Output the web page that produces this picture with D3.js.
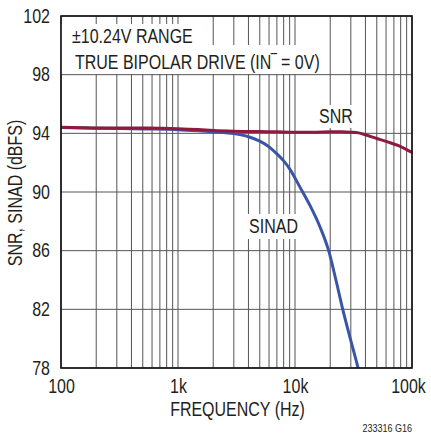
<!DOCTYPE html>
<html>
<head>
<meta charset="utf-8">
<script src="https://cdn.jsdelivr.net/npm/d3@7"></script>
<style>
  body { margin: 0; background: #fff; }
  text { font-family: "Liberation Sans", Arial, sans-serif; fill: #231f20; }
</style>
</head>
<body>
<div id="chart"></div>
<script>
// values
var snrFreq = [100, 150, 200, 300, 500, 700, 1000, 1500, 2000, 3000, 5000, 7000, 10000, 15000, 20000, 25000, 30000, 35000, 40000, 50000, 60000, 80000, 100000];
var snrDb = [94.42, 94.38, 94.36, 94.37, 94.36, 94.35, 94.32, 94.26, 94.2, 94.15, 94.12, 94.1, 94.08, 94.08, 94.1, 94.1, 94.08, 94.03, 93.9, 93.65, 93.45, 93.1, 92.7];

var sinadFreq = [100, 200, 500, 1000, 1500, 2000, 3000, 4000, 5000, 6000, 7000, 8000, 9000, 11000, 13400, 16300, 19400, 22300, 25600, 29700, 34600, 37400];
var sinadDb = [94.4, 94.35, 94.3, 94.25, 94.17, 94.1, 93.98, 93.77, 93.47, 93.08, 92.6, 92.12, 91.58, 90.35, 89.1, 87.65, 86.0, 84.05, 82.0, 80.0, 78.0, 76.9];

var xTicks = [100, 1000, 10000, 100000];
var xTickLabels = ["100", "1k", "10k", "100k"];
var yTicks = [78, 82, 86, 90, 94, 98, 102];

var svgWidth = 431;
var svgHeight = 434;

var margin = { top: 16, right: 19, bottom: 66, left: 61 };
var chartWidth = svgWidth - margin.left - margin.right;
var chartHeight = svgHeight - margin.top - margin.bottom;

// condensed look: squeeze the regular sans horizontally
var narrow = 0.82;
var fontSize = 19.5;

var svg = d3.select("#chart")
  .append("svg")
  .attr("width", svgWidth)
  .attr("height", svgHeight);

var xScale = d3.scaleLog()
  .domain([100, 100000])
  .range([0, chartWidth]);

var yScale = d3.scaleLinear()
  .domain([78, 102])
  .range([chartHeight, 0]);

var chartGroup = svg.append("g")
  .attr("transform", `translate(${margin.left}, ${margin.top})`);

svg.append("defs").append("clipPath")
  .attr("id", "plotClip")
  .append("rect")
  .attr("x", 0).attr("y", 0)
  .attr("width", chartWidth).attr("height", chartHeight);

function label(parent, x, y, str, size, anchor, rotate) {
  return parent.append("text")
    .attr("transform", `translate(${x}, ${y})` + (rotate ? ` rotate(${rotate})` : "") + ` scale(${narrow}, 1)`)
    .attr("text-anchor", anchor || "start")
    .attr("font-size", size)
    .text(str);
}

// grid
chartGroup.append("g")
  .selectAll("line")
  .data(xScale.ticks())
  .enter()
  .append("line")
  .attr("x1", d => xScale(d)).attr("x2", d => xScale(d))
  .attr("y1", 0).attr("y2", chartHeight)
  .attr("stroke", "#555")
  .attr("stroke-width", 1);

chartGroup.append("g")
  .selectAll("line")
  .data(yTicks)
  .enter()
  .append("line")
  .attr("x1", 0).attr("x2", chartWidth)
  .attr("y1", d => yScale(d)).attr("y2", d => yScale(d))
  .attr("stroke", "#555")
  .attr("stroke-width", 1);

// white boxes behind the notes
var boxes = [
  [0, 8, 141, 22],
  [0, 29, 265, 29],
  [254, 89, 42, 23],
  [184, 198, 56, 25]
];
chartGroup.append("g")
  .selectAll("rect")
  .data(boxes)
  .enter()
  .append("rect")
  .attr("x", d => d[0]).attr("y", d => d[1])
  .attr("width", d => d[2]).attr("height", d => d[3])
  .attr("fill", "#fff");

// curves
var line = d3.line()
  .x(d => xScale(d[0]))
  .y(d => yScale(d[1]))
  .curve(d3.curveMonotoneX);

var curves = chartGroup.append("g").attr("clip-path", "url(#plotClip)");

curves.append("path")
  .datum(d3.zip(sinadFreq, sinadDb))
  .attr("d", line)
  .attr("fill", "none")
  .attr("stroke", "#3a55a6")
  .attr("stroke-width", 3);

curves.append("path")
  .datum(d3.zip(snrFreq, snrDb))
  .attr("d", line)
  .attr("fill", "none")
  .attr("stroke", "#8f1a3d")
  .attr("stroke-width", 3);

// frame
chartGroup.append("rect")
  .attr("width", chartWidth)
  .attr("height", chartHeight)
  .attr("fill", "none")
  .attr("stroke", "#111")
  .attr("stroke-width", 1.6);

// axes
var bottomAxis = d3.axisBottom(xScale)
  .tickValues(xTicks)
  .tickFormat((d, i) => xTickLabels[i])
  .tickSize(0);

var leftAxis = d3.axisLeft(yScale)
  .tickValues(yTicks)
  .tickFormat(d3.format("d"))
  .tickSize(0)
  .tickPadding(0);

var xAxisG = chartGroup.append("g")
  .attr("transform", `translate(0, ${chartHeight})`)
  .call(bottomAxis);
xAxisG.select(".domain").remove();
xAxisG.selectAll("text")
  .attr("font-size", fontSize)
  .attr("y", 25)
  .attr("dy", 0)
  .attr("transform", (d, i) => `translate(${i === 3 ? -4 : 0}, 0) scale(${narrow}, 1)`)
  .attr("fill", "#231f20");

var yAxisG = chartGroup.append("g").call(leftAxis);
yAxisG.select(".domain").remove();
yAxisG.selectAll("text")
  .attr("font-size", fontSize)
  .attr("x", 0)
  .attr("transform", `translate(-11, 0) scale(${narrow}, 1)`)
  .attr("fill", "#231f20");

// notes
label(chartGroup, 11, 27, "±10.24V RANGE", fontSize);
label(chartGroup, 14, 53, "TRUE BIPOLAR DRIVE (IN\u203E = 0V)", fontSize);
label(chartGroup, xScale(22400), yScale(94.7), "SNR", fontSize, "middle");
label(chartGroup, xScale(6550), yScale(87.2), "SINAD", fontSize, "middle");

// axis titles
label(chartGroup, -39, chartHeight / 2 + 1, "SNR, SINAD (dBFS)", fontSize, "middle", -90);
label(chartGroup, chartWidth / 2 + 1, chartHeight + 48, "FREQUENCY (Hz)", fontSize, "middle");
label(svg, 412, 432, "233316 G16", 11, "end");
</script>
</body>
</html>
